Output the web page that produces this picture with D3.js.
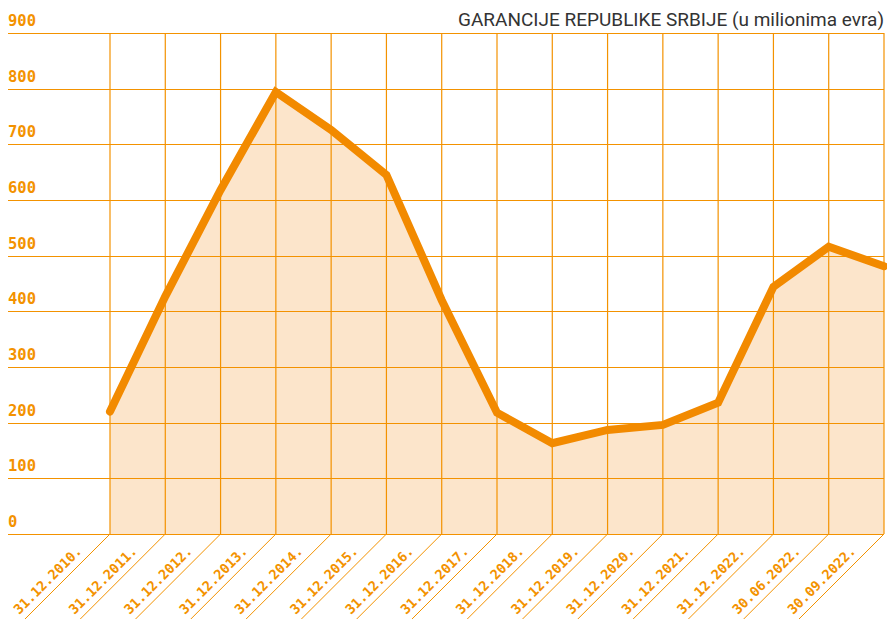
<!DOCTYPE html>
<html>
<head>
<meta charset="utf-8">
<script src="https://cdn.jsdelivr.net/npm/d3@7"></script>
<style>
  body { margin: 0; background: #fff; }
  svg { display: block; }
</style>
</head>
<body>
<div id="wrapper"></div>
<script>
// dates on the x axis
const dates = [
  "31.12.2010.", "31.12.2011.", "31.12.2012.", "31.12.2013.", "31.12.2014.",
  "31.12.2015.", "31.12.2016.", "31.12.2017.", "31.12.2018.", "31.12.2019.",
  "31.12.2020.", "31.12.2021.", "31.12.2022.", "30.06.2022.", "30.09.2022."
];
// guarantees, millions of euro
const guarantees = [220, 427, 618, 794, 726, 645, 420, 218, 163, 187, 196, 236, 444, 516, 481];
const yTicks = [0, 100, 200, 300, 400, 500, 600, 700, 800, 900];
const title = "GARANCIJE REPUBLIKE SRBIJE (u milionima evra)";

function drawChart() {
  const dataset = dates.map((d, i) => ({ date: d, value: guarantees[i] }));
  const xAccessor = d => d.date;
  const yAccessor = d => d.value;

  const dimensions = {
    width: 887,
    height: 619,
    gridLeft: 8,
    plotLeft: 110,
    plotRight: 884,
    top: 33,
    bottom: 534,
  };

  const orange = "#f39200";
  const lineColor = "#f28a00";

  const wrapper = d3.select("#wrapper")
    .append("svg")
    .attr("width", dimensions.width)
    .attr("height", dimensions.height);

  const xScale = d3.scalePoint()
    .domain(dates)
    .range([dimensions.plotLeft, dimensions.plotRight]);

  const yScale = d3.scaleLinear()
    .domain([0, 900])
    .range([dimensions.bottom, dimensions.top]);

  // area under the line goes first, grid sits on top of it
  const areaGen = d3.area()
    .x(d => xScale(xAccessor(d)))
    .y0(yScale(0))
    .y1(d => yScale(yAccessor(d)));

  wrapper.append("path")
    .datum(dataset)
    .attr("d", areaGen)
    .attr("fill", "#fce5cb");

  // horizontal grid + labels
  const yGrid = wrapper.append("g");
  yGrid.selectAll("line")
    .data(yTicks)
    .enter().append("line")
    .attr("x1", dimensions.gridLeft)
    .attr("x2", dimensions.plotRight)
    .attr("y1", d => Math.round(yScale(d)) + 0.5)
    .attr("y2", d => Math.round(yScale(d)) + 0.5)
    .attr("stroke", orange)
    .attr("stroke-width", 1.2);

  yGrid.selectAll("text")
    .data(yTicks)
    .enter().append("text")
    .attr("x", dimensions.gridLeft)
    .attr("y", d => yScale(d) - 7)
    .text(d => d)
    .attr("fill", orange)
    .style("font-family", "'DejaVu Sans Mono', monospace")
    .style("font-size", "15.5px")
    .style("font-weight", "bold");

  // vertical grid + slanted ticks down to the labels
  const xGrid = wrapper.append("g");
  xGrid.selectAll("line.v")
    .data(dates)
    .enter().append("line")
    .attr("class", "v")
    .attr("x1", d => xScale(d))
    .attr("x2", d => xScale(d))
    .attr("y1", dimensions.top)
    .attr("y2", dimensions.bottom)
    .attr("stroke", orange)
    .attr("stroke-width", 1.2);

  const slant = dimensions.height - dimensions.bottom + 10;
  xGrid.selectAll("line.s")
    .data(dates)
    .enter().append("line")
    .attr("class", "s")
    .attr("x1", d => xScale(d))
    .attr("y1", dimensions.bottom)
    .attr("x2", d => xScale(d) - slant)
    .attr("y2", dimensions.bottom + slant)
    .attr("stroke", orange)
    .attr("stroke-width", 1);

  xGrid.selectAll("text")
    .data(dates)
    .enter().append("text")
    .attr("transform", d => `translate(${xScale(d)}, ${dimensions.bottom}) rotate(-45)`)
    .attr("x", -32)
    .attr("y", -7)
    .attr("text-anchor", "end")
    .text(d => d)
    .attr("fill", orange)
    .style("font-family", "'DejaVu Sans Mono', monospace")
    .style("font-size", "13.5px")
    .style("font-weight", "bold");

  // the line itself
  const lineGen = d3.line()
    .x(d => xScale(xAccessor(d)))
    .y(d => yScale(yAccessor(d)));

  wrapper.append("path")
    .datum(dataset)
    .attr("d", lineGen)
    .attr("fill", "none")
    .attr("stroke", lineColor)
    .attr("stroke-width", 8)
    .attr("stroke-linecap", "round")
    .attr("stroke-linejoin", "miter");

  wrapper.append("text")
    .attr("x", dimensions.plotRight)
    .attr("y", 26)
    .attr("text-anchor", "end")
    .text(title)
    .attr("fill", "#333")
    .style("font-family", "Roboto, sans-serif")
    .style("font-size", "19px");
}

drawChart();
</script>
</body>
</html>
